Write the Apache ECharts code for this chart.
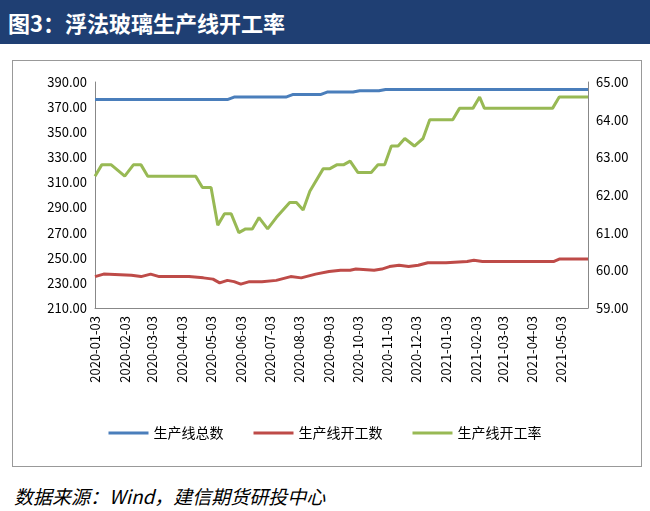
<!DOCTYPE html><html><head><meta charset="utf-8"><script src="https://cdn.jsdelivr.net/npm/echarts@6/dist/echarts.min.js"></script>
<style>body{margin:0;background:#fff;width:650px;height:511px;position:relative;font-family:"Noto Sans CJK SC"}
#t{position:absolute;left:0;top:0;width:650px;height:44px;background:#1f3f73;color:#fff;font-size:22px;font-weight:bold;line-height:44px;padding-left:8px;box-sizing:border-box}
#b{position:absolute;left:12px;top:60px;width:628px;height:405px;border:1px solid #999}
#f{position:absolute;left:14px;top:482px;font-size:19px;font-style:italic;color:#000}
#c{position:absolute;left:0;top:0;width:650px;height:511px}</style></head><body>
<div id="t">图3：浮法玻璃生产线开工率</div><div id="b"></div><div id="f">数据来源：Wind，建信期货研投中心</div><div id="c"></div>
<script>
const totalDates=['2020-01-03','2020-05-20','2020-05-27','2020-07-20','2020-07-27','2020-08-25','2020-09-01','2020-09-28','2020-10-05','2020-10-25','2020-11-01','2021-05-31'];
const totalVals=[376,376,378,378,380,380,382,382,383,383,384,384];
const runDates=['2020-01-03','2020-01-12','2020-02-10','2020-02-20','2020-03-01','2020-03-10','2020-04-10','2020-04-25','2020-05-05','2020-05-12','2020-05-20','2020-05-27','2020-06-03','2020-06-12','2020-06-25','2020-07-10','2020-07-25','2020-08-05','2020-08-20','2020-09-03','2020-09-15','2020-09-25','2020-10-01','2020-10-20','2020-10-28','2020-11-05','2020-11-15','2020-11-25','2020-12-05','2020-12-15','2021-01-03','2021-01-25','2021-02-01','2021-02-10','2021-04-25','2021-05-01','2021-05-31'];
const runVals=[235,237,236,235,237,235,235,234,233,230,232,231,229,231,231,232,235,234,237,239,240,240,241,240,241,243,244,243,244,246,246,247,248,247,247,249,249];
const rateDates=['2020-01-03','2020-01-10','2020-01-20','2020-02-03','2020-02-12','2020-02-20','2020-02-27','2020-03-05','2020-04-10','2020-04-17','2020-04-24','2020-05-03','2020-05-10','2020-05-17','2020-05-24','2020-06-01','2020-06-08','2020-06-15','2020-06-22','2020-07-01','2020-07-10','2020-07-24','2020-07-31','2020-08-07','2020-08-14','2020-08-28','2020-09-04','2020-09-11','2020-09-18','2020-09-25','2020-10-03','2020-10-17','2020-10-24','2020-10-31','2020-11-07','2020-11-14','2020-11-21','2020-12-01','2020-12-10','2020-12-17','2021-01-03','2021-01-10','2021-01-17','2021-01-31','2021-02-07','2021-02-12','2021-04-24','2021-05-01','2021-05-31'];
const rateVals=[62.5,62.8,62.8,62.5,62.8,62.8,62.5,62.5,62.5,62.5,62.2,62.2,61.2,61.5,61.5,61.0,61.1,61.1,61.4,61.1,61.4,61.8,61.8,61.6,62.1,62.7,62.7,62.8,62.8,62.9,62.6,62.6,62.8,62.8,63.3,63.3,63.5,63.3,63.5,64.0,64.0,64.0,64.3,64.3,64.6,64.3,64.3,64.6,64.6];
const cats=[];for(let d=new Date(Date.UTC(2020,0,3));d<=new Date(Date.UTC(2021,4,31));d.setUTCDate(d.getUTCDate()+1))cats.push(d.toISOString().slice(0,10));
const z=(a,b)=>a.map((d,i)=>[d,b[i]]);
const ch=echarts.init(document.getElementById('c'));
const f={fontFamily:'Noto Sans CJK SC',color:'#000',fontSize:13};
ch.setOption({animation:false,
grid:{left:95,right:62,top:82,bottom:203},
legend:{bottom:66,itemWidth:40,itemHeight:3,itemGap:30,textStyle:{...f,fontSize:14},icon:'rect',data:['生产线总数','生产线开工数','生产线开工率']},
xAxis:{type:'category',data:cats,boundaryGap:false,axisTick:{show:false},axisLine:{lineStyle:{color:'#888'}},
axisLabel:{...f,rotate:90,interval:(i,v)=>v.endsWith('-03')}},
yAxis:[{min:210,max:390,interval:20,axisLabel:{...f,formatter:v=>v.toFixed(2)},splitLine:{show:false},axisLine:{show:true,lineStyle:{color:'#888'}}},
{min:59,max:65,interval:1,axisLabel:{...f,formatter:v=>v.toFixed(2)},splitLine:{show:false},axisLine:{show:true,lineStyle:{color:'#888'}}}],
series:[{name:'生产线总数',type:'line',data:z(totalDates,totalVals),showSymbol:false,color:'#4a7ebb',lineStyle:{width:3}},
{name:'生产线开工数',type:'line',data:z(runDates,runVals),showSymbol:false,color:'#be4b48',lineStyle:{width:3}},
{name:'生产线开工率',type:'line',yAxisIndex:1,data:z(rateDates,rateVals),showSymbol:false,color:'#98b954',lineStyle:{width:3}}]});
</script></body></html>
